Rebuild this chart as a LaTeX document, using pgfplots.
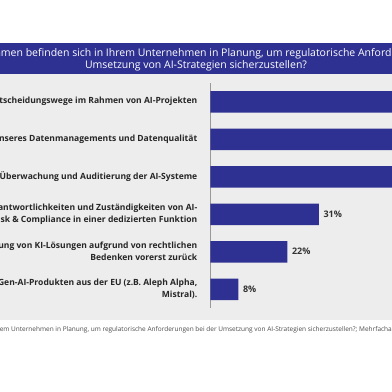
\documentclass[border=0pt]{standalone}
\usepackage{fontspec}
\setmainfont{Open Sans}
\usepackage{pgfplots}
\pgfplotsset{compat=1.18}
\definecolor{band}{HTML}{2E3192}
\definecolor{barc}{HTML}{2E3192}
\definecolor{panel}{HTML}{EDEDED}
\begin{document}
\begin{tikzpicture}[x=1pt,y=1pt]
\useasboundingbox (0,0) rectangle (392,392);
\clip (0,0) rectangle (392,392);
\fill[white] (0,0) rectangle (392,392);
\fill[band] (0,349) rectangle (392,318);
\fill[panel] (0,318) rectangle (392,72);
\node[text=white, font=\fontsize{10.5}{12}\selectfont, anchor=base, inner sep=0pt] at (196,335) {Welche Maßnahmen befinden sich in Ihrem Unternehmen in Planung, um regulatorische Anforderungen bei der};
\node[text=white, font=\fontsize{10.5}{12}\selectfont, anchor=base, inner sep=0pt] at (196,323) {Umsetzung von AI-Strategien sicherzustellen?};
\node[text=black!70, font=\fontsize{6.5}{8}\selectfont, anchor=base east, inner sep=0pt] at (392,60) {Frage: Welche Maßnahmen befinden sich in Ihrem Unternehmen in Planung, um regulatorische Anforderungen bei der Umsetzung von AI-Strategien sicherzustellen?; Mehrfacha\rlap{ntworten möglich}};
\begin{axis}[
  at={(210.5pt,84pt)}, anchor=south west,
  scale only axis, width=210pt, height=225pt,
  xmin=0, xmax=60, ymin=-0.5, ymax=5.5, y dir=reverse,
  xbar, bar width=21.5pt,
  axis x line=none, axis y line=left,
  axis line style={-, draw=black!40, line width=1pt},
  /pgf/number format/assume math mode=true,
  ytick={0,1,2,3,4,5},
  yticklabels={
    {Festlegung klarer Entscheidungswege im Rahmen von AI-Projekten},
    {Verbesserung unseres Datenmanagements und Datenqualität},
    {Einführung von Überwachung und Auditierung der AI-Systeme},
    {Bündelung der Verantwortlichkeiten und Zuständigkeiten von AI-\\Risk \& Compliance in einer dedizierten Funktion},
    {Wir stellen die Einführung von KI-Lösungen aufgrund von rechtlichen\\Bedenken vorerst zurück},
    {Bevorzugung von Gen-AI-Produkten aus der EU (z.B. Aleph Alpha,\\Mistral).}},
  yticklabel style={font=\fontsize{8.55}{12}\selectfont\bfseries, text=black!85, align=right, anchor=east, inner sep=0pt, xshift=-13pt},
  major tick length=0pt, ytick style={draw=none},
  nodes near coords={\pgfmathprintnumber[assume math mode=true]{\pgfplotspointmeta}\%},
  nodes near coords style={font=\fontsize{9}{11}\selectfont\bfseries, text=black!80, xshift=1pt},
  clip=false,
]
\addplot[fill=barc, draw=none] coordinates {(64,0) (60,1) (56,2) (31,3) (22,4) (8,5)};
\end{axis}
\end{tikzpicture}
\end{document}
